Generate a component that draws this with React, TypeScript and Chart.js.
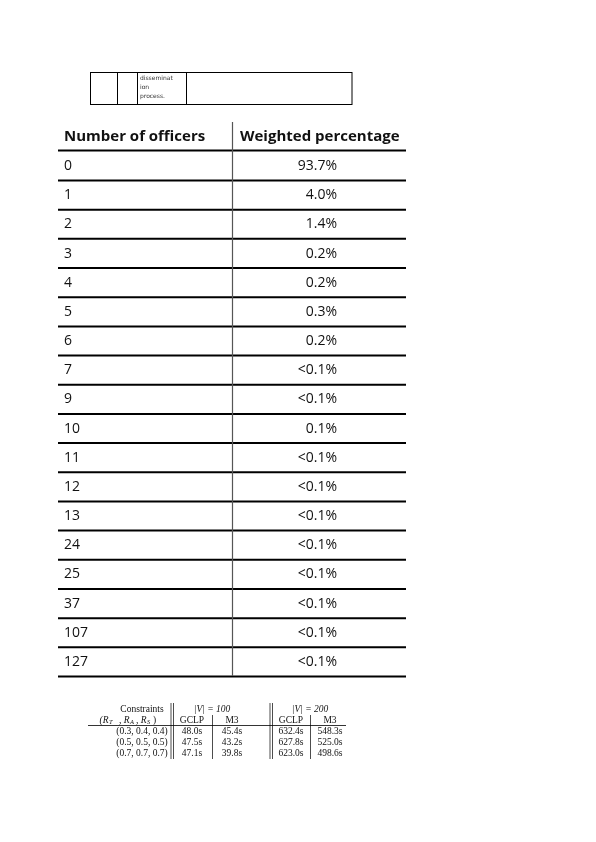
import React, { useEffect, useRef } from "react";
import { Chart, registerables } from "chart.js";
Chart.register(...registerables);

const officers = ["0","1","2","3","4","5","6","7","9","10","11","12","13","24","25","37","107","127"];
const percentages = ["93.7%","4.0%","1.4%","0.2%","0.2%","0.3%","0.2%","<0.1%","<0.1%","0.1%","<0.1%","<0.1%","<0.1%","<0.1%","<0.1%","<0.1%","<0.1%","<0.1%"];
const headers = ["Number of officers", "Weighted percentage"];
const constraints = ["(0.3, 0.4, 0.4)", "(0.5, 0.5, 0.5)", "(0.7, 0.7, 0.7)"];
const gclp100 = ["48.0s", "47.5s", "47.1s"];
const m3100 = ["45.4s", "43.2s", "39.8s"];
const gclp200 = ["632.4s", "627.8s", "623.0s"];
const m3200 = ["548.3s", "525.0s", "498.6s"];
const boxText = ["disseminat", "ion", "process."];

export default function App() {
  const ref = useRef<HTMLCanvasElement>(null);
  useEffect(() => {
    const plugin = {
      id: "page",
      afterDraw(chart: any) {
        const c = chart.ctx as CanvasRenderingContext2D;
        const X = (v: number) => chart.scales.x.getPixelForValue(v);
        const Y = (v: number) => chart.scales.y.getPixelForValue(v);
        const line = (x1: number, y1: number, x2: number, y2: number, w: number, col = "#000") => {
          c.strokeStyle = col; c.lineWidth = w; c.beginPath(); c.moveTo(X(x1), Y(y1)); c.lineTo(X(x2), Y(y2)); c.stroke();
        };
        const text = (s: string, x: number, y: number, font: string, align: CanvasTextAlign = "left", col = "#111") => {
          c.font = font; c.fillStyle = col; c.textAlign = align; c.textBaseline = "middle"; c.fillText(s, X(x), Y(y));
        };
        c.save();
        // top box
        c.strokeStyle = "#000"; c.lineWidth = 1;
        c.strokeRect(X(90.5), Y(72.5), X(352) - X(90.5), Y(104.5) - Y(72.5));
        [117, 137, 186].forEach((x) => line(x + 0.5, 72.5, x + 0.5, 104.5, 1));
        boxText.forEach((s, i) => text(s, 140, 78 + i * 9, "6px 'DejaVu Sans'", "left", "#333"));
        // middle table
        text(headers[0], 64, 137, "bold 15px 'Open Sans'");
        text(headers[1], 240, 137, "bold 15px 'Open Sans'");
        line(58, 150.5, 406, 150.5, 2);
        const rowH = (662 - 166) / 17;
        officers.forEach((o, i) => {
          const y = 166 + i * rowH;
          text(o, 64, y, "14px 'Open Sans'");
          text(percentages[i], 337, y, "14px 'Open Sans'", "right");
          line(58, y + 14.5, 406, y + 14.5, 2);
        });
        line(232.5, 122, 232.5, 676, 1.2, "#555");
        // bottom table
        const f = "9.5px 'Liberation Serif'";
        const fi = "italic 9.5px 'Liberation Serif'";
        text("Constraints", 142, 709, f, "center");
        text("(R", 104, 720, fi, "center");
        text("T", 109, 722, "italic 6.5px 'Liberation Serif'", "left");
        text(", R", 119, 720, fi, "left");
        text("A", 130, 722, "italic 6.5px 'Liberation Serif'", "left");
        text(", R", 136, 720, fi, "left");
        text("S", 147, 722, "italic 6.5px 'Liberation Serif'", "left");
        text(")", 153, 720, f, "left");
        text("|V| = 100", 212, 709, fi, "center");
        text("|V| = 200", 310, 709, fi, "center");
        text("GCLP", 192, 720, f, "center");
        text("M3", 232, 720, f, "center");
        text("GCLP", 291, 720, f, "center");
        text("M3", 330, 720, f, "center");
        line(88, 725.5, 346, 725.5, 0.8);
        constraints.forEach((s, i) => {
          const y = 731 + i * 11;
          text(s, 142, y, f, "center");
          text(gclp100[i], 192, y, f, "center");
          text(m3100[i], 232, y, f, "center");
          text(gclp200[i], 291, y, f, "center");
          text(m3200[i], 330, y, f, "center");
        });
        [171, 173.5, 270, 272.5].forEach((x) => line(x, 703, x, 759, 0.7));
        [212.5, 310.5].forEach((x) => line(x, 715, x, 759, 0.7));
        c.restore();
      },
    };
    const chart = new Chart(ref.current!, {
      type: "scatter",
      data: { datasets: [{ data: [] }] },
      options: {
        animation: false, responsive: false, maintainAspectRatio: false,
        layout: { padding: 0 },
        plugins: { legend: { display: false }, tooltip: { enabled: false } },
        scales: {
          x: { type: "linear", min: 0, max: 596, display: false },
          y: { type: "linear", min: 0, max: 842, reverse: true, display: false },
        },
      },
      plugins: [plugin],
    });
    return () => chart.destroy();
  }, []);
  return (
    <div style={{ position: "fixed", left: 0, top: 0, width: 596, height: 842, background: "#fff" }}>
      <canvas ref={ref} width={596} height={842} style={{ width: 596, height: 842 }} />
    </div>
  );
}
